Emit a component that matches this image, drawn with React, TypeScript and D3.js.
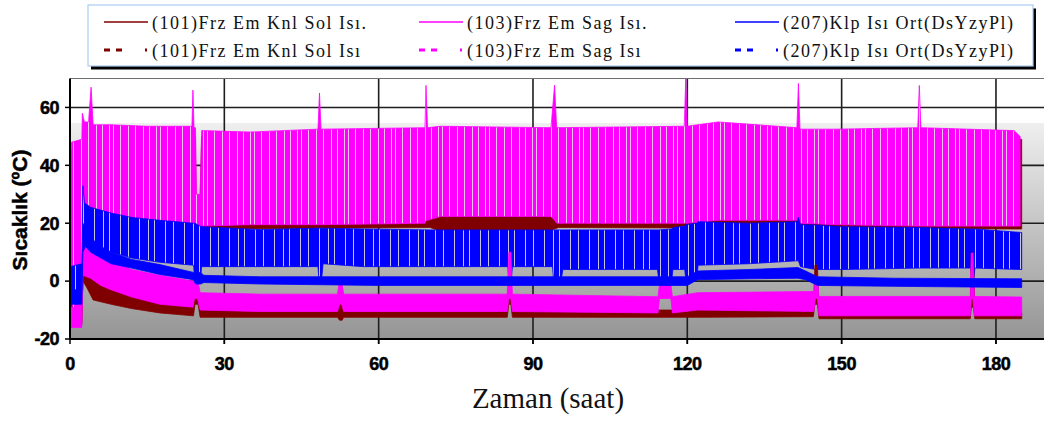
import React, { useEffect } from 'react';
import * as d3 from 'd3';

type Band = [number, number, number][]; // [time (h), low (°C), high (°C)]

const xTicks = [0, 30, 60, 90, 120, 150, 180];
const yTicks = [-20, 0, 20, 40, 60];
const yGrid = [0, 20, 40, 60];

const legendLabels = [
  '(101)Frz Em Knl Sol Isı.',
  '(103)Frz Em Sag Isı.',
  '(207)Klp Isı Ort(DsYzyPl)',
  '(101)Frz Em Knl Sol Isı',
  '(103)Frz Em Sag Isı',
  '(207)Klp Isı Ort(DsYzyPl)',
];
const seriesColors = ['#800000', '#ff00ff', '#0000ff', '#800000', '#ff00ff', '#0000ff'];
const seriesDashed = [false, false, false, true, true, true];

// (101) solid — dark red
const frz101Sol: Band = [
  [0, 10, 22], [0.3, 12, 45], [2.3, 12, 46], [2.5, 19, 50], [4.5, 19, 50], [20, 19, 50],
  [24.3, 17, 50], [24.6, 17, 28], [25.3, 17, 28], [25.6, 18, 50], [70, 18.5, 50],
  [72, 17.3, 50], [93, 17.3, 50], [95, 18.5, 50], [185, 18, 49],
];
// (103) solid — magenta
const frz103Sag: Band = [
  [0, -13, 36], [0.3, -14, 48], [2.3, -14, 49], [2.4, 26, 58], [2.8, 26, 55], [3.6, 26, 55],
  [4.1, 24, 67], [4.5, 22, 54], [8, 22, 54], [15, 21, 53.5], [23.7, 20, 53.5], [23.9, 20, 66],
  [24.1, 20, 53], [24.4, 18, 53], [24.6, 18, 30], [25.3, 18, 30], [25.6, 19, 52], [35, 19.5, 51.5],
  [48.2, 19.5, 52.5], [48.5, 19.5, 65], [48.8, 19.5, 52.5], [69.0, 20, 53], [69.2, 21, 67.6],
  [69.5, 21, 53], [72, 22.3, 53.5], [93.5, 22.3, 53], [94.2, 21, 67.7], [94.6, 20, 53],
  [119.4, 20, 53.5], [119.7, 20, 70], [120.0, 20, 53.5], [126, 21, 55], [141.3, 21, 53],
  [141.6, 22, 68.3], [141.9, 20, 52.5], [149, 19.5, 52.5], [164.8, 19, 53], [165.1, 19, 67.6],
  [165.4, 19, 53], [183.5, 19, 52], [184.7, 19, 50],
];
// (207) solid — blue
const klp207: Band = [
  [0, -7, 5], [2.3, -7, 6], [2.5, -2, 33], [2.8, 10, 27], [4, 12, 25.5], [8, 10, 23.5],
  [12, 8, 22], [17.5, 6.5, 21], [24, 5.5, 20], [24.3, 0, 20], [25.3, 0, 19], [25.6, 5, 18.8],
  [37, 5, 17.8], [48.2, 5, 18.3], [48.4, 0.5, 18.3], [48.9, 0.5, 18.3], [49.2, 6, 18.3],
  [57, 5, 18], [70, 5, 17.7], [85.1, 5, 17.7], [85.3, 1, 17.7], [85.8, 1, 17.7], [86, 5, 17.7],
  [93.8, 5, 17.7], [94, 0.5, 17.7], [95.5, 0.5, 17.7], [95.8, 4, 17.7], [114.2, 4, 17.7],
  [114.4, 1, 17.7], [117, 1, 18], [117.2, 4, 18.5], [119.5, 4, 19], [119.7, 0.5, 19.5],
  [121.8, 0.5, 20], [122.1, 5.5, 20.5], [132, 6, 20], [141.3, 7, 20.5], [141.6, 7, 22],
  [142, 5, 19.5], [145, 4, 19.4], [150, 4, 18.8], [165, 4.5, 18.5], [175.1, 4.5, 18],
  [175.3, 1, 18], [175.7, 1, 18], [175.9, 4.5, 18], [185, 4, 16.8],
];
// (101) dashed — dark red
const frz101SolD: Band = [
  [0, -15, -5], [0.5, -15, -10], [2.3, -15, -10], [2.5, 0, 12], [3.2, -2, 8], [4.5, -6.5, 0],
  [8, -8, -3], [12, -9.5, -5], [17.5, -11, -7.5], [24, -12, -9], [24.3, -8, -5], [24.9, -8, -5],
  [25.3, -12.5, -10], [52, -12.5, -10], [52.4, -13.5, -8], [52.9, -13.5, -8], [53.2, -12.5, -10],
  [85, -12.5, -10], [85.3, -8, 0], [85.7, -8, 0], [86, -12.5, -10], [122, -12.5, -10],
  [144.5, -12.3, -10], [144.8, -8, 5.5], [145.3, -8, 5.5], [145.6, -13, -11], [175, -13, -11],
  [175.2, -9, 9.7], [175.6, -9, 9.7], [175.9, -13, -11], [185, -13, -11],
];
// (103) dashed — magenta
const frz103SagD: Band = [
  [0, -16, -9], [2.3, -16, -9], [2.5, 2, 14], [4, 1, 13], [6, -1.5, 9], [8, -3, 7],
  [12, -5.5, 4], [17.5, -8, 2], [23.9, -9, 0], [24.2, -6, 1], [24.8, -6, 1], [25.3, -10, -4],
  [37, -10.5, -4.5], [52, -10.5, -4.5], [52.4, -8, 0.5], [52.8, -8, 0.5], [53.2, -10.5, -4.5],
  [85, -10.5, -4.5], [85.3, -6, 10], [85.7, -6, 10], [86, -10.5, -4.5], [114.3, -11, -5.4],
  [114.6, -6, -1], [116.8, -6, -1], [117.1, -11, -5.4], [122, -10, -4], [144.6, -10.5, -3.6],
  [144.9, -6, 0.5], [145.3, -6, 0.5], [145.6, -12, -5.3], [175, -12, -5.3], [175.2, -6, 9.7],
  [175.5, -6, 9.7], [175.8, -12, -5.3], [185, -12, -5.5],
];
// (207) dashed — blue
const klp207D: Band = [
  [0, -8, -3], [2.3, -8, -3], [2.5, 10, 20], [3, 12, 18], [4, 10, 15], [6, 8, 12], [8, 6, 10],
  [12, 4.5, 7.5], [17.5, 2.3, 5.7], [24, 0.5, 3], [24.4, -1, 3], [25.4, -1, 3], [26, -0.5, 2],
  [37, -1, 1.5], [60, -1.5, 1.5], [90, -1.5, 1.5], [120, -1.5, 1.5], [122, 0.5, 3.5],
  [132, 0.8, 4], [141.5, 1, 4.7], [143, 0.5, 3.5], [145.3, -1.5, 1.5], [160, -1.8, 1],
  [185, -2.2, 0.8],
];

const seriesData = [frz101Sol, frz103Sag, klp207, frz101SolD, frz103SagD, klp207D];

export default function App() {
  useEffect(() => {
    document.body.style.margin = '0';
  }, []);

  const W = 1044;
  const H = 421;
  const left = 70;
  const top = 78.5;
  const bottom = 339;

  const x = d3.scaleLinear().domain([0, 210]).range([left, 1150.3]);
  const y = d3.scaleLinear().domain([-20, 70]).range([bottom, top]);

  const area = d3
    .area<[number, number, number]>()
    .x((d) => x(d[0]))
    .y0((d) => y(d[1]))
    .y1((d) => y(d[2]));

  const fills = [
    '#800000',
    'url(#pinkStripe)',
    'url(#blueStripe)',
    '#800000',
    '#ff00ff',
    '#0000ff',
  ];

  const serif = "'Liberation Serif', 'Times New Roman', serif";
  const sans = "'Liberation Sans', Arial, sans-serif";

  const legendCols = [104, 419, 735];
  const legendRows = [22, 50];

  const pinkGaps = [2, 8, 15, 19, 26, 34, 41];
  const blueGaps = [4, 13, 19, 30, 38];

  return (
    <svg
      width={W}
      height={H}
      viewBox={`0 0 ${W} ${H}`}
      style={{ display: 'block', position: 'absolute', left: 0, top: 0, background: '#fff' }}
    >
      <defs>
        <linearGradient id="plotBg" x1="0" y1={top} x2="0" y2={bottom} gradientUnits="userSpaceOnUse">
          <stop offset="0" stopColor="#ffffff" />
          <stop offset="0.17" stopColor="#ffffff" />
          <stop offset="0.172" stopColor="#efefef" />
          <stop offset="1" stopColor="#959595" />
        </linearGradient>
        <pattern id="pinkStripe" patternUnits="userSpaceOnUse" width="47" height="421">
          <rect x="0" y="0" width="47" height="421" fill="#ff00ff" />
          {pinkGaps.map((g) => (
            <rect key={'pg' + g} x={g} y="0" width="1" height="421" fill="#f6c4f6" />
          ))}
        </pattern>
        <pattern id="blueStripe" patternUnits="userSpaceOnUse" width="45" height="421">
          <rect x="0" y="0" width="45" height="421" fill="#0000ff" />
          {blueGaps.map((g) => (
            <rect key={'bg' + g} x={g} y="0" width="1" height="421" fill="#c4c4e4" />
          ))}
        </pattern>
        <clipPath id="plotClip">
          <rect x={left} y={top} width={W - left} height={bottom - top} />
        </clipPath>
      </defs>

      {/* plot background */}
      <rect x={left} y={top} width={W - left} height={bottom - top} fill="url(#plotBg)" />

      {/* gridlines */}
      <g stroke="#1e1e1e" strokeWidth={1.6}>
        {yGrid.map((v) => (
          <line key={'gy' + v} x1={left} x2={W} y1={y(v)} y2={y(v)} />
        ))}
        {xTicks
          .filter((t) => t > 0)
          .map((t) => (
            <line key={'gx' + t} x1={x(t)} x2={x(t)} y1={top} y2={bottom + 5} />
          ))}
      </g>
      <line x1={left} x2={W} y1={top} y2={top} stroke="#6e6e6e" strokeWidth={1} />

      {/* series */}
      <g clipPath="url(#plotClip)">
        {seriesData.map((d, i) => (
          <path key={'s' + i} d={area(d) || ''} fill={fills[i]} stroke={seriesColors[i]} strokeWidth={0.8} />
        ))}
      </g>

      {/* axes */}
      <line x1={left} x2={left} y1={top} y2={bottom} stroke="#000" strokeWidth={2} />
      <line x1={left} x2={W} y1={bottom} y2={bottom} stroke="#000" strokeWidth={2} />
      {yTicks.map((v) => (
        <g key={'yt' + v}>
          <line x1={left - 5} x2={left} y1={y(v)} y2={y(v)} stroke="#000" strokeWidth={1.5} />
          <text
            x={59}
            y={y(v) + 6.3}
            textAnchor="end"
            fontFamily={sans}
            fontWeight="bold"
            fontSize={18}
            letterSpacing={-0.5}
            stroke="#000"
            strokeWidth={0.5}
            fill="#000"
          >
            {v}
          </text>
        </g>
      ))}
      {xTicks.map((t) => (
        <g key={'xt' + t}>
          <line x1={x(t)} x2={x(t)} y1={bottom} y2={bottom + 5} stroke="#000" strokeWidth={1.5} />
          <text
            x={x(t)}
            y={370}
            textAnchor="middle"
            fontFamily={sans}
            fontWeight="bold"
            fontSize={18}
            letterSpacing={-0.5}
            stroke="#000"
            strokeWidth={0.5}
            fill="#000"
          >
            {t}
          </text>
        </g>
      ))}

      {/* axis titles */}
      <text
        transform="translate(27,210) rotate(-90)"
        textAnchor="middle"
        fontFamily={sans}
        fontWeight="bold"
        fontSize={21}
        stroke="#000"
        strokeWidth={0.5}
        fill="#000"
      >
        Sıcaklık (ºC)
      </text>
      <text x={548} y={408} textAnchor="middle" fontFamily={serif} fontSize={29} fill="#111">
        Zaman (saat)
      </text>

      {/* legend */}
      <rect x={91} y={8.5} width={945} height={61} fill="#000" />
      <rect x={88} y={5} width={945} height={61} fill="#fff" stroke="#a9ccf0" strokeWidth={1.2} />
      {legendLabels.map((label, i) => {
        const cx = legendCols[i % 3];
        const cy = legendRows[Math.floor(i / 3)];
        return (
          <g key={'lg' + i}>
            <line
              x1={cx}
              x2={cx + 44}
              y1={cy}
              y2={cy}
              stroke={seriesColors[i]}
              strokeWidth={seriesDashed[i] ? 3 : 1.6}
              strokeDasharray={seriesDashed[i] ? '6 6 6 23 2 100' : undefined}
            />
            <text
              x={cx + 48}
              y={cy + 7}
              fontFamily={serif}
              fontSize={18}
              letterSpacing={1.5}
              fill="#111"
            >
              {label}
            </text>
          </g>
        );
      })}
    </svg>
  );
}
